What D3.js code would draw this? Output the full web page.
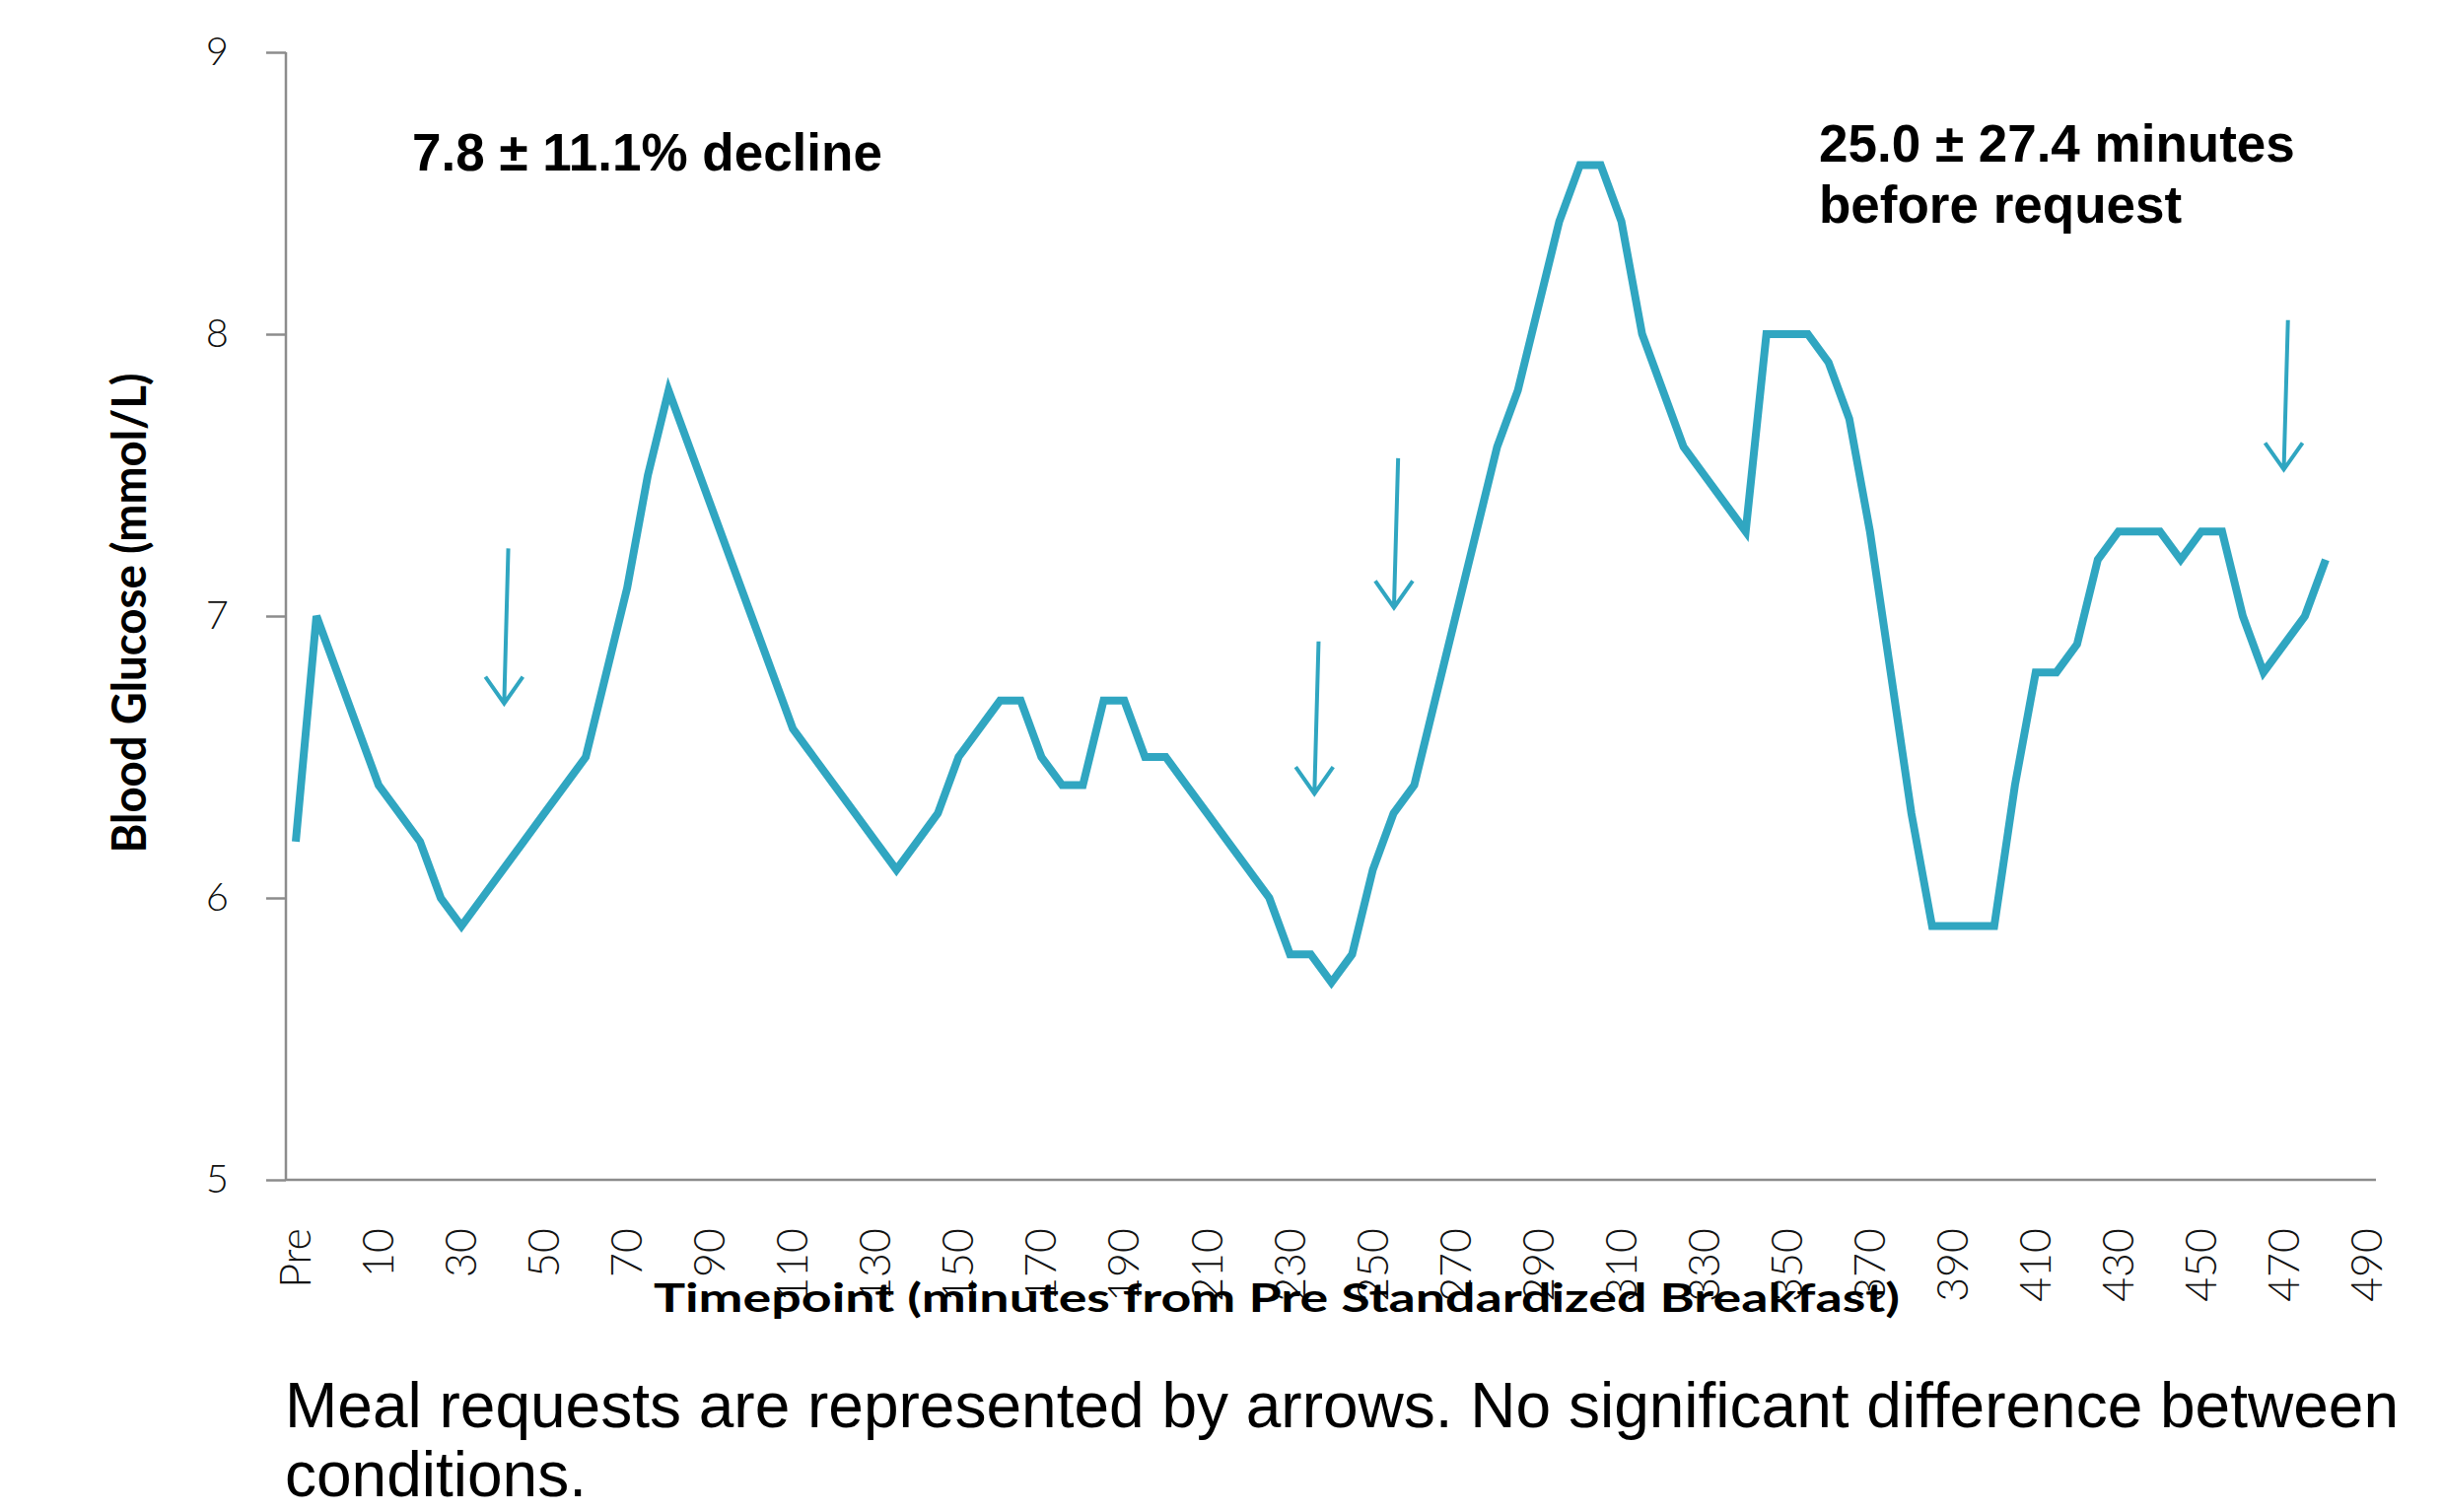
<!DOCTYPE html>
<html>
<head>
<meta charset="utf-8">
<script src="https://cdn.jsdelivr.net/npm/d3@7"></script>
<style>
  body { margin: 0; background: #fff; }
  svg { display: block; }
</style>
</head>
<body>
<svg width="2477" height="1534"></svg>
<script>
// minutes from Pre standardized breakfast (Pre drawn at -10)
var times = [-10, -5, 0, 5, 10, 15, 20, 25, 30, 35, 40, 45, 50, 55, 60, 65, 70, 75, 80, 85,
    90, 95, 100, 105, 110, 115, 120, 125, 130, 135, 140, 145, 150, 155, 160, 165, 170, 175, 180, 185,
    190, 195, 200, 205, 210, 215, 220, 225, 230, 235, 240, 245, 250, 255, 260, 265, 270, 275, 280, 285,
    290, 295, 300, 305, 310, 315, 320, 325, 330, 335, 340, 345, 350, 355, 360, 365, 370, 375, 380, 385,
    390, 395, 400, 405, 410, 415, 420, 425, 430, 435, 440, 445, 450, 455, 460, 465, 470, 475, 480];

// blood glucose, mmol/L
var glucose = [6.2, 7.0, 6.8, 6.6, 6.4, 6.3, 6.2, 6.0, 5.9, 6.0, 6.1, 6.2, 6.3, 6.4, 6.5, 6.8, 7.1, 7.5, 7.8, 7.6,
    7.4, 7.2, 7.0, 6.8, 6.6, 6.5, 6.4, 6.3, 6.2, 6.1, 6.2, 6.3, 6.5, 6.6, 6.7, 6.7, 6.5, 6.4, 6.4, 6.7,
    6.7, 6.5, 6.5, 6.4, 6.3, 6.2, 6.1, 6.0, 5.8, 5.8, 5.7, 5.8, 6.1, 6.3, 6.4, 6.7, 7.0, 7.3, 7.6, 7.8,
    8.1, 8.4, 8.6, 8.6, 8.4, 8.0, 7.8, 7.6, 7.5, 7.4, 7.3, 8.0, 8.0, 8.0, 7.9, 7.7, 7.3, 6.8, 6.3, 5.9,
    5.9, 5.9, 5.9, 6.4, 6.8, 6.8, 6.9, 7.2, 7.3, 7.3, 7.3, 7.2, 7.3, 7.3, 7.0, 6.8, 6.9, 7.0, 7.2];

var tickTimes = [-10, 10, 30, 50, 70, 90, 110, 130, 150, 170, 190, 210, 230, 250, 270, 290,
    310, 330, 350, 370, 390, 410, 430, 450, 470, 490];
var tickLabels = ["Pre", "10", "30", "50", "70", "90", "110", "130", "150", "170", "190", "210", "230",
    "250", "270", "290", "310", "330", "350", "370", "390", "410", "430", "450", "470", "490"];
var yTicks = [5, 6, 7, 8, 9];

// meal request arrows (top of shaft -> tip)
var arrowTopTimes = [41.3, 236.9, 256.1, 470.9];
var arrowTipTimes = [40.3, 235.9, 255.1, 469.9];
var arrowTopValues = [7.24, 6.91, 7.56, 8.05];
var arrowTipValues = [6.69, 6.37, 7.03, 7.52];

var teal = "#30a6c1",
    axisColor = "#8c8c8c";

var svg = d3.select("svg");

var x = d3.scaleLinear().domain([-10, 490]).range([300, 2401]);
var y = d3.scaleLinear().domain([5, 9]).range([1197, 53]);

// y axis with ticks pointing left
var yAxis = d3.axisLeft(y)
    .tickValues(yTicks)
    .tickSize(20)
    .tickPadding(38)
    .tickFormat(d3.format("d"));

var gy = svg.append("g")
    .attr("transform", "translate(290,0)")
    .call(yAxis);
gy.select(".domain").attr("stroke", axisColor).attr("stroke-width", 2.5).attr("d", "M0," + y(9) + "V" + y(5));
gy.selectAll(".tick line").attr("stroke", axisColor).attr("stroke-width", 2.5);
gy.selectAll(".tick text")
    .attr("fill", "#111")
    .style("font-family", "Lato, 'Open Sans', sans-serif")
    .style("font-weight", 300)
    .style("font-size", "40px");

// x axis: plain line, rotated labels
svg.append("line")
    .attr("x1", 290).attr("x2", 2410)
    .attr("y1", y(5)).attr("y2", y(5))
    .attr("stroke", axisColor)
    .attr("stroke-width", 2.5);

svg.append("g")
    .selectAll("text")
    .data(tickTimes)
    .enter().append("text")
    .attr("transform", function (d) {
        return "translate(" + x(d) + ",1246) rotate(-90)";
    })
    .attr("text-anchor", "end")
    .attr("dy", "0.35em")
    .attr("fill", "#111")
    .style("font-family", "Lato, 'Open Sans', sans-serif")
    .style("font-weight", 300)
    .style("font-size", "43px")
    .text(function (d, i) {
        return tickLabels[i];
    });

// glucose line
var line = d3.line()
    .x(function (d) { return x(d.t); })
    .y(function (d) { return y(d.v); });

var points = times.map(function (t, i) {
    return { t: t, v: glucose[i] };
});

svg.append("path")
    .datum(points)
    .attr("fill", "none")
    .attr("stroke", teal)
    .attr("stroke-width", 8)
    .attr("stroke-linejoin", "miter")
    .attr("d", line);

// meal request arrows
var arrows = svg.append("g")
    .attr("stroke", teal)
    .attr("stroke-width", 4)
    .attr("fill", "none")
    .selectAll("path")
    .data(arrowTipTimes)
    .enter().append("path")
    .attr("d", function (d, i) {
        var tx = x(d), ty = y(arrowTipValues[i]);
        return "M" + x(arrowTopTimes[i]) + "," + y(arrowTopValues[i]) + "L" + tx + "," + ty +
            "M" + (tx - 19) + "," + (ty - 27) + "L" + tx + "," + ty + "L" + (tx + 19) + "," + (ty - 27);
    });

// axis titles
svg.append("text")
    .attr("transform", "translate(148,622) rotate(-90)")
    .attr("text-anchor", "middle")
    .attr("textLength", 487)
    .attr("lengthAdjust", "spacingAndGlyphs")
    .style("font-family", "Lato, 'Open Sans', sans-serif")
    .style("font-weight", 700)
    .style("font-size", "48px")
    .text("Blood Glucose (mmol/L)");

svg.append("text")
    .attr("x", 663)
    .attr("y", 1331)
    .attr("textLength", 1264)
    .attr("lengthAdjust", "spacingAndGlyphs")
    .style("font-family", "Lato, 'Open Sans', sans-serif")
    .style("font-weight", 700)
    .style("font-size", "40px")
    .text("Timepoint (minutes from Pre Standardized Breakfast)");

// annotations
var bold = "'Liberation Sans', Arial, sans-serif";
svg.append("text")
    .attr("x", 418).attr("y", 173)
    .style("font-family", bold).style("font-weight", 700).style("font-size", "53px")
    .text("7.8 \u00b1 11.1% decline");

svg.append("text")
    .attr("x", 1845).attr("y", 164)
    .style("font-family", bold).style("font-weight", 700).style("font-size", "53px")
    .text("25.0 \u00b1 27.4 minutes");

svg.append("text")
    .attr("x", 1845).attr("y", 226)
    .style("font-family", bold).style("font-weight", 700).style("font-size", "53px")
    .text("before request");

// caption
svg.append("text")
    .attr("x", 289).attr("y", 1448)
    .style("font-family", bold).style("font-size", "64px")
    .text("Meal requests are represented by arrows. No significant difference between");

svg.append("text")
    .attr("x", 289).attr("y", 1518)
    .style("font-family", bold).style("font-size", "64px")
    .text("conditions.");
</script>
</body>
</html>
